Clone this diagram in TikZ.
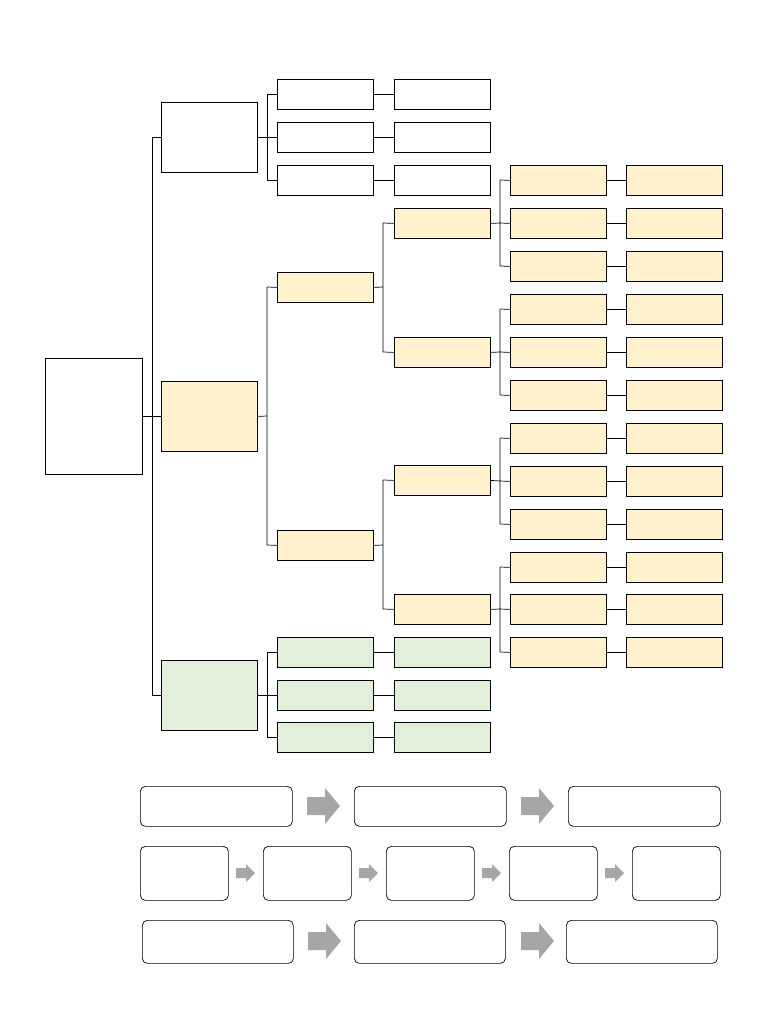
\documentclass[tikz,border=0pt]{standalone}
\usetikzlibrary{calc}
\definecolor{cream}{HTML}{FFF2CC}
\definecolor{lgreen}{HTML}{E2EFDA}
\tikzset{
 bx/.style={draw=black,line width=0.8pt,minimum width=96pt,minimum height=30pt,inner sep=0pt,anchor=north west},
 big/.style={bx,minimum height=70pt},
 rb/.style={draw=black,rounded corners=5pt,line width=0.7pt,inner sep=0pt,anchor=north west},
 arf/.style={fill=black!35,draw=none},
 ln/.style={line width=0.7pt}
}
\newcommand{\bigarrow}[1]{\fill[arf] ($(#1)+(0,-9)$) -- ++(18,0) -- ++(0,-9) -- ++(15,18) -- ++(-15,18) -- ++(0,-9) -- ++(-18,0) -- cycle;}
\newcommand{\smallarrow}[1]{\fill[arf] ($(#1)+(0,-5)$) -- ++(10,0) -- ++(0,-4) -- ++(9,9) -- ++(-9,9) -- ++(0,-4) -- ++(-10,0) -- cycle;}
\begin{document}
\begin{tikzpicture}[x=1pt,y=-1pt]
\useasboundingbox (0,0) rectangle (768,1024);
\node[bx,minimum width=97pt,minimum height=116pt] (root) at (45,358) {};
\node[big] (A) at (161,102) {};
\node[big,fill=cream] (B) at (161,381) {};
\node[big,fill=lgreen] (C) at (161,660) {};
\coordinate (s0) at (152,0);
\draw[ln] (root.east) -- (root.east -| s0) (A.west -| s0) -- (A.west) (B.west -| s0) -- (B.west) (C.west -| s0) -- (C.west) (A.west -| s0) -- (C.west -| s0);
\foreach \g/\pp/\col/\ys in {a/A/white/{79,122,165},c/C/lgreen/{637,680,722}}{
 \foreach \y [count=\i] in \ys {
  \node[bx,fill=\col] (\g\i) at (277,\y) {};
  \node[bx,fill=\col] (\g\i x) at (394,\y) {};
  \draw[ln] (\g\i) -- (\g\i x);
  \draw[ln] (\pp.east) -- ++(9,0) coordinate (tmp) (tmp |- \g\i.west) -- (\g\i.west);
 }
 \draw[ln] ($(\g1.west)+(-10,0)$) -- ($(\g3.west)+(-10,0)$);
}
\node[bx,fill=cream] (b1) at (277,272) {};
\node[bx,fill=cream] (b2) at (277,530) {};
\draw[ln] (B.east) -- (267,416) (267,287) -- (267,545) (267,287) -- (b1.west) (267,545) -- (b2.west);
\node[bx,fill=cream] (b11) at (394,208) {};
\node[bx,fill=cream] (b12) at (394,337) {};
\node[bx,fill=cream] (b21) at (394,465) {};
\node[bx,fill=cream] (b22) at (394,594) {};
\draw[ln] (b1.east) -- (383,287) (383,223) -- (383,352) (383,223) -- (b11.west) (383,352) -- (b12.west);
\draw[ln] (b2.east) -- (383,545) (383,480) -- (383,609) (383,480) -- (b21.west) (383,609) -- (b22.west);
\foreach \p/\ya/\yb/\yc in {b11/165/208/251, b12/294/337/380, b21/423/466/509, b22/552/594/637}{
 \foreach \y [count=\i] in {\ya,\yb,\yc}{
  \node[bx,fill=cream] (\p l\i) at (510,\y) {};
  \node[bx,fill=cream] (\p r\i) at (626,\y) {};
  \draw[ln] (\p l\i) -- (\p r\i);
  \draw[ln] (500,\y+15) -- (\p l\i.west);
 }
 \draw[ln] (\p.east) -- (500,\yb+15) (500,\ya+15) -- (500,\yc+15);
}
\foreach \x [count=\i] in {140,354,568}{
 \node[rb,minimum width=152pt,minimum height=40pt] (p\i) at (\x,786) {};
}
\foreach \x [count=\i] in {142,354,566}{
 \node[rb,minimum width=151pt,minimum height=43pt] (r\i) at (\x,920) {};
}
\foreach \x [count=\i] in {140,263,386,509,632}{
 \node[rb,minimum width=88pt,minimum height=54pt] (q\i) at (\x,846) {};
}
\bigarrow{307,806}
\bigarrow{521,806}
\bigarrow{308,941}
\bigarrow{521,941}
\foreach \x in {236,359,482,605}{ \smallarrow{\x,873} }
\end{tikzpicture}
\end{document}
